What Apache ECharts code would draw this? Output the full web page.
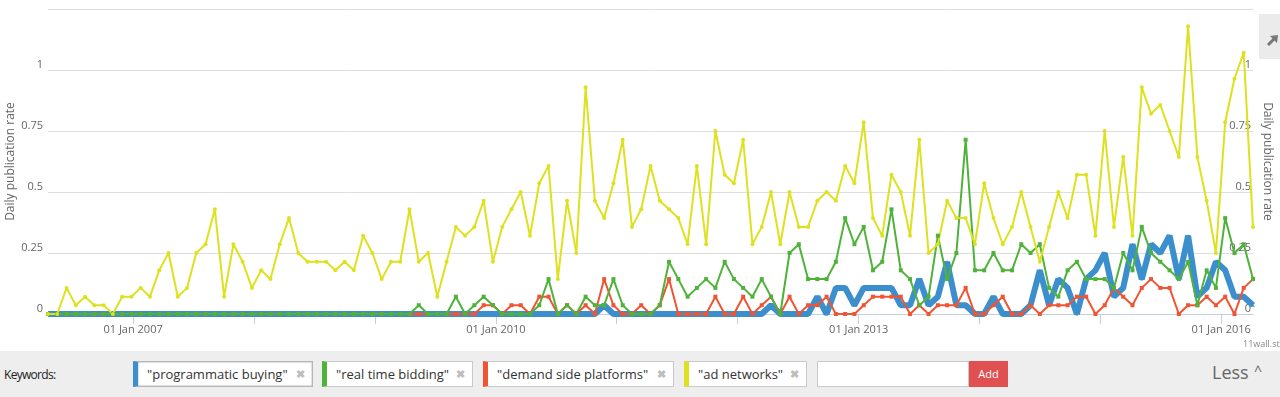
<!DOCTYPE html>
<html>
<head>
<meta charset="utf-8">
<title>Daily publication rate</title>
<script src="https://cdn.jsdelivr.net/npm/echarts@6.0.0/dist/echarts.min.js"></script>
<style>
  html, body { margin: 0; padding: 0; background: #fff; }
  #page { position: relative; width: 1280px; height: 397px; overflow: hidden; font-family: "Open Sans", sans-serif; }
  #chart { position: absolute; left: 0; top: 0; width: 1280px; height: 397px; }
  #expand { position: absolute; left: 1259px; top: 14px; width: 21px; height: 45px; background: #ebebeb; }
  #credit { position: absolute; left: 1243px; top: 337px; font-size: 9px; color: #888; }
  #bar { position: absolute; left: 0; top: 351px; width: 1280px; height: 46px; background: #eeeeee; }
  #bar .label { position: absolute; left: 4px; top: 15px; font-size: 12px; color: #222; letter-spacing: -0.7px; }
  .chip { position: absolute; top: 10px; height: 24px; box-sizing: content-box; background: #fff;
          border: 1px solid #c9c9c9; border-left-width: 5px; font-size: 13px; color: #333; line-height: 24px; }
  .chip span.t { position: absolute; left: 9px; top: 0; white-space: nowrap; }
  .chip span.x { position: absolute; right: 7px; top: 0; color: #bdbdbd; font-size: 11px; font-weight: bold; }
  .chip.focus { border-color: #b5b5b5; box-shadow: inset 0 0 2px #999; }
  #input { position: absolute; left: 817px; top: 10px; width: 150px; height: 24px; background: #fff; border: 1px solid #c9c9c9; }
  #add { position: absolute; left: 969px; top: 10px; width: 39px; height: 26px; background: #e05050; color: #fff;
         font-size: 11px; line-height: 26px; text-align: center; }
  #less { position: absolute; left: 1212px; top: 9px; font-size: 18px; color: #666; }
  #caret { position: absolute; left: 1254px; top: 10px; font-size: 14px; color: #666; }
</style>
</head>
<body>
<div id="page">
  <div id="chart"></div>
  <div id="expand">
    <svg width="21" height="45" viewBox="0 0 21 45">
      <line x1="9" y1="31" x2="16" y2="24" stroke="#777" stroke-width="3"/>
      <polygon points="19,21 11,22 18,29" fill="#777"/>
    </svg>
  </div>
  <div id="credit">11wall.st</div>
  <div id="bar">
    <div class="label">Keywords:</div>
    <div class="chip focus" style="left:133px;width:174px;border-left-color:#3b8fcc"><span class="t">"programmatic buying"</span><span class="x">✖</span></div>
    <div class="chip" style="left:322px;width:145px;border-left-color:#4fb33a"><span class="t">"real time bidding"</span><span class="x">✖</span></div>
    <div class="chip" style="left:483px;width:185px;border-left-color:#f05533"><span class="t">"demand side platforms"</span><span class="x">✖</span></div>
    <div class="chip" style="left:684px;width:117px;border-left-color:#dde11f"><span class="t">"ad networks"</span><span class="x">✖</span></div>
    <div id="input"></div>
    <div id="add">Add</div>
    <div id="less">Less</div>
    <div id="caret">^</div>
  </div>
</div>
<script>
// one point every 28 days, first point 19 Apr 2006
const startDate = Date.UTC(2006, 3, 19);
const stepDays = 28;

const programmaticBuying = [
  0,0,0,0,0,0,0,0,0,0, 0,0,0,0,0,0,0,0,0,0, 0,0,0,0,0,0,0,0,0,0,
  0,0,0,0,0,0,0,0,0,0, 0,0,0,0,0,0,0,0,0,0, 0,0,0,0,0,0,0,0,0,0,
  0.036,0,0,0,0,0,0,0,0,0,
  0,0,0,0,0,0,0,0,0.036,0,
  0,0,0,0.071,0,0.107,0.107,0.036,0.107,0.107,
  0.107,0.107,0.036,0.036,0.143,0.036,0.071,0.214,0.036,0.036,
  0,0,0.071,0,0,0,0.036,0.179,0.036,0.143,
  0.107,0,0.143,0.179,0.25,0.071,0.107,0.286,0.143,0.286,
  0.25,0.321,0.143,0.321,0.071,0.107,0.214,0.179,0.071,0.071,0.036
];

const realTimeBidding = [
  0,0,0,0,0,0,0,0,0,0, 0,0,0,0,0,0,0,0,0,0, 0,0,0,0,0,0,0,0,0,0, 0,0,0,0,0,0,0,0,0,0,
  0.036,0,0,0,0.071,0,0.036,0.071,0.036,0,
  0,0,0,0.036,0.143,0,0.036,0,0.071,0.036,
  0.036,0.143,0.036,0,0,0,0.036,0.214,0.143,0.071,
  0.107,0.143,0.107,0.214,0.143,0.107,0.071,0.143,0.071,0,
  0.25,0.286,0.143,0.143,0.143,0.214,0.393,0.286,0.357,0.179,
  0.214,0.429,0.179,0.143,0.036,0.071,0.321,0.143,0.25,0.714,
  0.179,0.179,0.25,0.179,0.179,0.286,0.25,0.286,0.107,0.071,
  0.179,0.214,0.143,0.143,0.143,0.107,0.25,0.179,0.357,0.25,
  0.214,0.179,0.143,0.214,0.036,0.179,0.107,0.393,0.25,0.286,0.143
];

const demandSidePlatforms = [
  0,0,0,0,0,0,0,0,0,0, 0,0,0,0,0,0,0,0,0,0, 0,0,0,0,0,0,0,0,0,0, 0,0,0,0,0,0,0,0,0,0,
  0,0,0,0,0,0,0,0.036,0.036,0,
  0.036,0.036,0,0.071,0.071,0,0.036,0,0.036,0,
  0.143,0.036,0,0,0.036,0,0.036,0.143,0,0,
  0,0,0.071,0,0,0.071,0,0.036,0.071,0,
  0.071,0,0.036,0.036,0.071,0,0,0,0.036,0.071,
  0.071,0.071,0.071,0,0.036,0,0.036,0.036,0.036,0.107,
  0,0,0.036,0.071,0,0,0.036,0,0.036,0.036,
  0.036,0.071,0.071,0,0.036,0.107,0.071,0.036,0.107,0.143,
  0.107,0.107,0,0.036,0.036,0.071,0.036,0.071,0,0.107,0.143
];

const adNetworks = [
  0,0,0.107,0.036,0.071,0.036,0.036,0,0.071,0.071,
  0.107,0.071,0.179,0.25,0.071,0.107,0.25,0.286,0.429,0.071,
  0.286,0.214,0.107,0.179,0.143,0.286,0.393,0.25,0.214,0.214,
  0.214,0.179,0.214,0.179,0.321,0.25,0.143,0.214,0.214,0.429,
  0.214,0.25,0.071,0.214,0.357,0.321,0.357,0.464,0.214,0.357,
  0.429,0.5,0.321,0.536,0.607,0.143,0.464,0.25,0.929,0.464,
  0.393,0.536,0.714,0.357,0.429,0.607,0.464,0.429,0.393,0.286,
  0.607,0.286,0.75,0.571,0.536,0.714,0.286,0.357,0.5,0.286,
  0.5,0.357,0.357,0.464,0.5,0.464,0.607,0.536,0.786,0.393,
  0.321,0.571,0.5,0.321,0.714,0.25,0.286,0.464,0.393,0.393,
  0.286,0.536,0.393,0.286,0.357,0.5,0.357,0.214,0.357,0.5,
  0.393,0.571,0.571,0.321,0.75,0.357,0.643,0.321,0.929,0.821,
  0.857,0.75,0.643,1.179,0.643,0.464,0.25,0.786,0.964,1.071,0.357
];

const yearTicks = [2007, 2008, 2009, 2010, 2011, 2012, 2013, 2014, 2015, 2016];
const yearLabels = [2007, 2010, 2013, 2016];

const dayMs = 86400000;
const dates = adNetworks.map((v, i) => startDate + i * stepDays * dayMs);
const pairs = values => values.map((v, i) => [dates[i], v]);

const chart = echarts.init(document.getElementById("chart"));

const yLabel = {
  color: "#666",
  fontSize: 11,
  fontFamily: "Open Sans",
  verticalAlign: "bottom",
  formatter: v => (v > 1.1 ? "" : String(v))
};

function lineSeries(name, values, color, width, symbol) {
  return {
    name: name,
    type: "line",
    data: pairs(values),
    symbol: symbol,
    symbolSize: width > 3 ? 3 : 4,
    showSymbol: true,
    lineStyle: { color: color, width: width },
    itemStyle: { color: color },
    emphasis: { disabled: true },
    animation: false
  };
}

chart.setOption({
  animation: false,
  grid: { left: 48, right: 27, top: 9, bottom: 83, outerBoundsMode: "none", containLabel: false },
  xAxis: {
    type: "value",
    min: dates[0],
    max: dates[dates.length - 1],
    axisLine: { show: true, onZero: false, lineStyle: { color: "#c0d0e0" } },
    axisTick: {
      show: true,
      length: 10,
      lineStyle: { color: "#c0d0e0" },
      customValues: yearTicks.map(y => Date.UTC(y, 0, 1))
    },
    axisLabel: {
      color: "#666",
      fontSize: 11,
      fontFamily: "Open Sans",
      margin: 10,
      customValues: yearLabels.map(y => Date.UTC(y, 0, 1)),
      formatter: v => "01 Jan " + new Date(v).getUTCFullYear()
    },
    splitLine: { show: false }
  },
  yAxis: [
    {
      type: "value",
      min: 0,
      max: 1.25,
      interval: 0.25,
      name: "Daily publication rate",
      nameLocation: "middle",
      nameRotate: 90,
      nameGap: 31,
      nameMoveOverlap: false,
      nameTextStyle: { color: "#666", fontSize: 12, fontFamily: "Open Sans" },
      axisLine: { show: false },
      axisTick: { show: false },
      axisLabel: Object.assign({ margin: 5 }, yLabel),
      splitLine: { lineStyle: { color: "#dedede" } }
    },
    {
      type: "value",
      position: "right",
      min: 0,
      max: 1.25,
      interval: 0.25,
      name: "Daily publication rate",
      nameLocation: "middle",
      nameRotate: -90,
      nameGap: 8,
      nameMoveOverlap: false,
      nameTextStyle: { color: "#666", fontSize: 12, fontFamily: "Open Sans" },
      axisLine: { show: false },
      axisTick: { show: false },
      axisLabel: Object.assign({ inside: true, margin: 2 }, yLabel),
      splitLine: { show: false }
    }
  ],
  series: [
    lineSeries("\"programmatic buying\"", programmaticBuying, "#3b8fcc", 6, "triangle"),
    lineSeries("\"demand side platforms\"", demandSidePlatforms, "#f05533", 2, "rect"),
    lineSeries("\"real time bidding\"", realTimeBidding, "#4fb33a", 2, "rect"),
    lineSeries("\"ad networks\"", adNetworks, "#dde11f", 2, "circle")
  ]
});
</script>
</body>
</html>
